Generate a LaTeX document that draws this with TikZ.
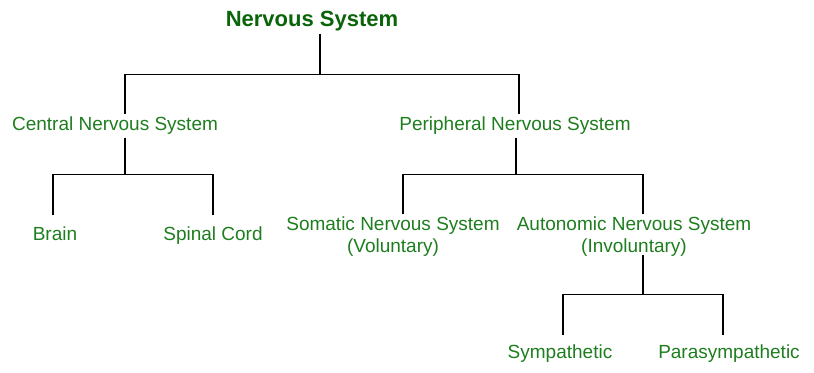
\documentclass[tikz,border=0pt]{standalone}
\usepackage{fontspec}
\setmainfont{Liberation Sans}
\usepackage{tikz}
\usetikzlibrary{positioning}
\usepackage{xcolor}
\definecolor{headgreen}{RGB}{10,100,10}
\definecolor{partgreen}{RGB}{30,125,30}

\begin{document}
\begin{tikzpicture}[
  x=0.75pt, y=-0.75pt,
  head/.style={anchor=north, inner xsep=0pt, inner ysep=2pt, text=headgreen,
               font=\fontsize{16.5}{19}\selectfont\bfseries},
  part/.style={anchor=north, inner xsep=0pt, inner ysep=2pt, text=partgreen,
               align=center, font=\fontsize{14.25}{16.5}\selectfont},
  link/.style={black, line width=0.8pt},
]
  \useasboundingbox (0,0) rectangle (814,373);

  \node[head] (ns)   at (312,8)   {Nervous System};
  \node[part] (cns)  at (115,114) {Central Nervous System};
  \node[part] (pns)  at (515,114) {Peripheral Nervous System};
  \node[part] (br)   at (55,224)  {Brain};
  \node[part] (sc)   at (213,224) {Spinal Cord};
  \node[part] (sns)  at (393,214) {Somatic Nervous System\\(Voluntary)};
  \node[part] (ans)  at (634,214) {Autonomic Nervous System\\(Involuntary)};
  \node[part] (sym)  at (560,342) {Sympathetic};
  \node[part] (psym) at (729,342) {Parasympathetic};

  \draw[link] ([xshift=6pt]ns.south) -- ++(0,41) -| ([xshift=7.5pt]cns.north);
  \draw[link] ([xshift=6pt]ns.south) -- ++(0,41) -| ([xshift=3pt]pns.north);

  \draw[link, shorten >=7pt] ([xshift=7.5pt]cns.south) -- ++(0,37) -| ([xshift=-1.5pt]br.north);
  \draw[link, shorten >=7pt] ([xshift=7.5pt]cns.south) -- ++(0,37) -| (sc.north);

  \draw[link] ([xshift=0.75pt]pns.south) -- ++(0,37) -| ([xshift=7.5pt]sns.north);
  \draw[link] ([xshift=0.75pt]pns.south) -- ++(0,37) -| ([xshift=6.75pt]ans.north);

  \draw[link, shorten >=5.5pt] ([xshift=6.75pt,yshift=3.75pt]ans.south) -- ++(0,40) -| ([xshift=2.25pt]sym.north);
  \draw[link, shorten >=5.5pt] ([xshift=6.75pt,yshift=3.75pt]ans.south) -- ++(0,40) -| ([xshift=-4.5pt]psym.north);
\end{tikzpicture}
\end{document}
